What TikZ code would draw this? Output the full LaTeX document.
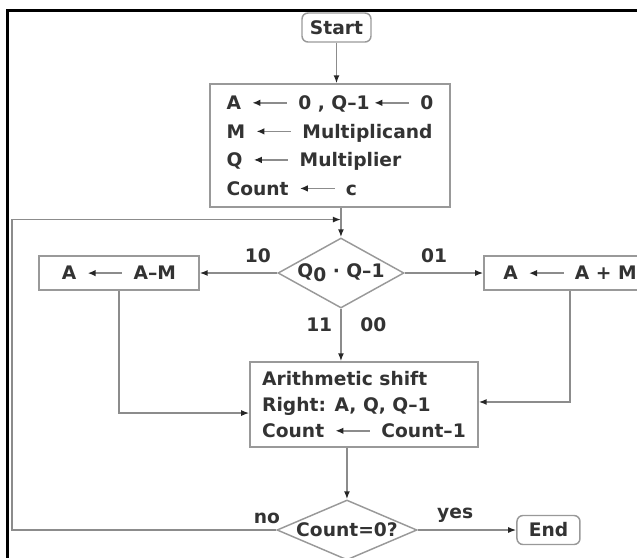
\documentclass[tikz,border=0pt]{standalone}
\usepackage{fontspec}
\setmainfont{DejaVu Sans}
\usetikzlibrary{positioning,arrows.meta,calc,shapes.geometric}

% small assignment arrow used inside the boxes
\newcommand{\getsarrow}{\hspace{3pt}\tikz[baseline=-5pt]\draw[black!45, line width=1.2pt,
  {Latex[length=6pt,width=5pt,color=black!85]}-] (0,0) -- (26pt,0);\hspace{3pt}}

\begin{document}
\begin{tikzpicture}[
  x=0.75pt, y=0.75pt,
  font=\bfseries\fontsize{14}{21.4}\selectfont,
  text=black!80,
  term/.style={rectangle, rounded corners=4.5pt, draw=black!40, line width=1.1pt,
               minimum width=51.75pt, minimum height=21.75pt, inner sep=2pt},
  box/.style={rectangle, draw=black!40, line width=1.1pt, inner sep=4pt},
  dec/.style={diamond, draw=black!40, line width=1.1pt, inner sep=0pt},
  lbl/.style={inner sep=2pt},
  flow/.style={draw=black!45, line width=1.1pt,
               -{Latex[length=6pt,width=4.5pt,color=black!85]}}
]
\useasboundingbox (0,0) rectangle (637,-558);

% ---------- frame ----------
\draw[line width=2.25pt] (7,-600) |- (680,-10);

% ---------- set up ----------
\node[term] (start) at (336.5,-27.5) {Start};
\node[box, below=30.4pt of start, xshift=-4.9pt, minimum width=180pt,
      minimum height=92.25pt, align=left]
  (init) {A \getsarrow{} 0 , Q–1\getsarrow{} 0\\
          M \getsarrow{} Multiplicand\\
          Q \getsarrow{} Multiplier\\
          Count \getsarrow{} c};

% ---------- test Q0, Q-1 ----------
\node[dec, below=22.15pt of init, xshift=8.25pt, minimum width=94.5pt,
      minimum height=52.5pt, label=center:{Q\raisebox{-0.4ex}{0} · Q–1}] (cmp) {};
\node[box, left=58.15pt of cmp, minimum width=120pt, minimum height=25.5pt]
  (amsub) {A \getsarrow{} A–M};
\node[box, right=58.9pt of cmp, minimum width=129pt, minimum height=25.5pt]
  (amadd) {A \getsarrow{} A + M};

% ---------- shift ----------
\node[box, below=39.4pt of cmp, xshift=17.25pt, minimum width=171pt,
      minimum height=63.75pt, align=left]
  (shift) {Arithmetic shift\\[-1.9pt]
           Right: A, Q, Q–1\\[-1.9pt]
           Count \getsarrow{} Count–1};

% ---------- counter test ----------
\node[dec, below=38.65pt of shift, xshift=-12.75pt, minimum width=105pt,
      minimum height=45pt, label=center:{Count=0?}] (chk) {};
\node[term, right=73.9pt of chk, minimum width=47.25pt] (end) {End};

% ---------- connectors ----------
\coordinate (merge) at ($(init.south -| cmp)!0.4!(cmp.north)$);
\coordinate (loopx) at (12,0);

\draw[flow] (start) -- (start |- init.north);
\draw[flow] (init.south -| cmp) -- (cmp.north);
\draw[flow] (cmp.west) -- node[lbl, pos=0.25, above=5pt] {10} (amsub);
\draw[flow] (cmp.east) -- node[lbl, pos=0.375, above=5pt] {01} (amadd);
\draw[flow] (cmp.south) -- node[lbl, pos=0.31, left=4pt] {11}
                           node[lbl, pos=0.31, right=12pt] {00} (cmp.south |- shift.north);
\draw[flow] (amsub.south) |- ([yshift=-6.4pt]shift.west);
\draw[flow] (amadd.south) |- ([yshift=1.9pt]shift.east);
\draw[flow] (chk |- shift.south) -- (chk.north);
\draw[flow] (chk.east) -- node[lbl, pos=0.38, above=3pt] {yes} (end);
\draw[flow] (chk.west) -- node[lbl, pos=0.035, above=2pt] {no}
            (chk.west -| loopx) |- (merge);

\end{tikzpicture}
\end{document}
